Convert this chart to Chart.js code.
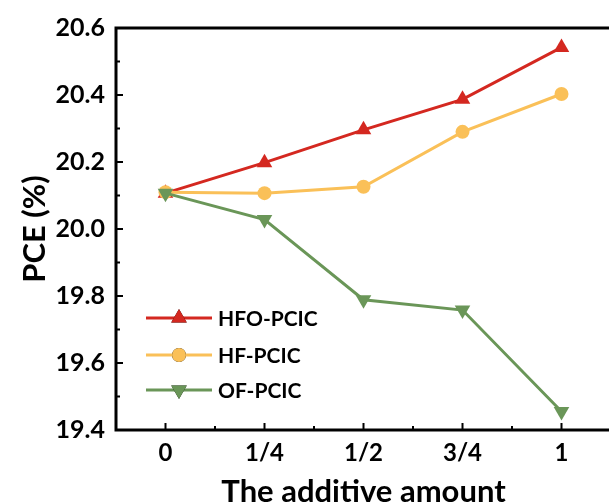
<!DOCTYPE html>
<html>
<head>
<meta charset="utf-8">
<script src="https://cdn.jsdelivr.net/npm/chart.js@4/dist/chart.umd.min.js"></script>
<style>
  html, body { margin: 0; padding: 0; background: #fff; overflow: hidden; }
  #wrap { width: 609px; height: 504px; overflow: hidden; }
</style>
</head>
<body>
<div id="wrap"><canvas id="pce" width="620" height="504"></canvas></div>
<script>
// data
var amounts = ["0", "1/4", "1/2", "3/4", "1"];
var hfoPcic = [20.107, 20.198, 20.296, 20.387, 20.542];
var hfPcic = [20.110, 20.107, 20.126, 20.290, 20.403];
var ofPcic = [20.107, 20.028, 19.789, 19.758, 19.455];
var seriesNames = ["HFO-PCIC", "HF-PCIC", "OF-PCIC"];
var yTicks = [19.4, 19.6, 19.8, 20.0, 20.2, 20.4, 20.6];

var red = "rgb(212,40,32)";
var yellow = "rgb(250,192,88)";
var green = "rgb(106,150,88)";
var font = "Lato, 'Open Sans', sans-serif";
var weight = "bold";

// inward ticks, frame and legend drawn on the canvas
var framePlugin = {
    id: "frame",
    afterDraw: function(chart) {
        var ctx = chart.ctx;
        var a = chart.chartArea;
        var x = chart.scales.x, y = chart.scales.y;
        ctx.save();
        ctx.strokeStyle = "#000";
        ctx.lineWidth = 3;
        ctx.strokeRect(a.left, a.top, a.right - a.left, a.bottom - a.top);

        ctx.lineWidth = 2;
        for (var i = 0; i < amounts.length; i++) {
            var px = x.getPixelForValue(i);
            ctx.beginPath(); ctx.moveTo(px, a.bottom); ctx.lineTo(px, a.bottom - 7); ctx.stroke();
            if (i < amounts.length - 1) {
                var mx = (px + x.getPixelForValue(i + 1)) / 2;
                ctx.beginPath(); ctx.moveTo(mx, a.bottom); ctx.lineTo(mx, a.bottom - 4); ctx.stroke();
            }
        }
        for (var j = 0; j < yTicks.length; j++) {
            var py = y.getPixelForValue(yTicks[j]);
            ctx.beginPath(); ctx.moveTo(a.left, py); ctx.lineTo(a.left + 7, py); ctx.stroke();
            if (j < yTicks.length - 1) {
                var my = (py + y.getPixelForValue(yTicks[j + 1])) / 2;
                ctx.beginPath(); ctx.moveTo(a.left, my); ctx.lineTo(a.left + 4, my); ctx.stroke();
            }
        }

        // legend
        var rows = [318, 355, 390];
        chart.data.datasets.forEach(function(ds, k) {
            var ly = rows[k];
            ctx.strokeStyle = ds.borderColor;
            ctx.lineWidth = 3;
            ctx.beginPath(); ctx.moveTo(146, ly); ctx.lineTo(212, ly); ctx.stroke();
            Chart.helpers.drawPoint(ctx, {
                pointStyle: ds.pointStyle,
                rotation: ds.rotation || 0,
                radius: ds.pointRadius,
                borderWidth: 0
            }, 179, ly);
            ctx.fillStyle = ds.backgroundColor;
            ctx.fill();
            ctx.fillStyle = "#000";
            ctx.font = weight + " 21px " + font;
            ctx.textBaseline = "middle";
            ctx.fillText(ds.label, 218, ly + 1);
        });
        ctx.restore();
    }
};

new Chart(document.getElementById("pce"), {
    type: "line",
    data: {
        labels: amounts,
        datasets: [
            { label: seriesNames[0], data: hfoPcic, borderColor: red, backgroundColor: red,
              pointStyle: "triangle", pointRadius: 9, order: 2 },
            { label: seriesNames[1], data: hfPcic, borderColor: yellow, backgroundColor: yellow,
              pointStyle: "circle", pointRadius: 7, order: 1 },
            { label: seriesNames[2], data: ofPcic, borderColor: green, backgroundColor: green,
              pointStyle: "triangle", rotation: 180, pointRadius: 9, order: 0 }
        ]
    },
    options: {
        responsive: false,
        animation: false,
        devicePixelRatio: 1,
        layout: { padding: { top: 28, right: 4, left: 12, bottom: 0 } },
        elements: {
            line: { borderWidth: 3, tension: 0 },
            point: { borderWidth: 0, hoverRadius: 9 }
        },
        plugins: {
            legend: { display: false },
            tooltip: { enabled: false }
        },
        scales: {
            x: {
                type: "category",
                offset: true,
                grid: { display: false, drawTicks: false },
                border: { display: false },
                ticks: { color: "#000", font: { family: font, size: 24, weight: weight }, padding: 9, maxRotation: 0 },
                title: { display: true, text: "The additive amount", color: "#000",
                         font: { family: font, size: 31, weight: weight }, padding: { top: 4, bottom: -7 } },
                afterFit: function(s) { s.height = 74; }
            },
            y: {
                min: 19.4,
                max: 20.6,
                grid: { display: false, drawTicks: false },
                border: { display: false },
                ticks: { stepSize: 0.2, color: "#000", font: { family: font, size: 25, weight: weight },
                         padding: 11, callback: function(v) { return Number(v).toFixed(1); } },
                title: { display: true, text: "PCE (%)", color: "#000",
                         font: { family: font, size: 31, weight: weight }, padding: { bottom: 0 } },
                afterFit: function(s) { s.width = 104; }
            }
        }
    },
    plugins: [framePlugin]
});
</script>
</body>
</html>
